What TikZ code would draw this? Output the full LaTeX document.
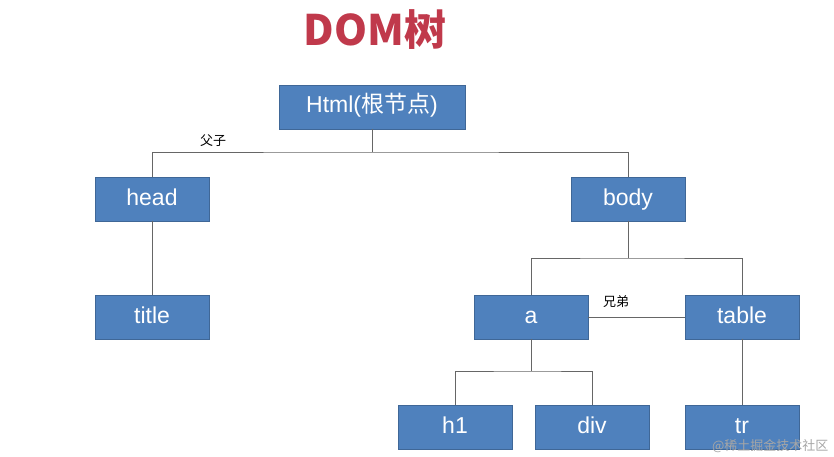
\documentclass[tikz,border=0pt]{standalone}
\usepackage{fontspec}
\setmainfont{Liberation Sans}
\newfontfamily\cjk{Noto Sans CJK SC}
\newfontfamily\cjkb{Noto Sans CJK SC Black}
\definecolor{boxblue}{HTML}{4F81BD}
\definecolor{titlered}{HTML}{C0394B}
\begin{document}
\begin{tikzpicture}[x=1pt,y=-1pt,
  box/.style={draw=boxblue!80!black,fill=boxblue,text=white,minimum width=114pt,minimum height=44pt,inner sep=0pt,text height=17pt,text depth=5pt,font=\fontsize{23}{25}\selectfont},
  conn/.style={draw=black!60,line width=0.8pt},
  lab/.style={font=\cjk\fontsize{13}{14}\selectfont}]
\useasboundingbox (0,0) rectangle (834,457);
\node[font=\cjk\bfseries\fontsize{42}{46}\selectfont,text=titlered] (t) at (375,30) {DOM树};
\node[box,minimum width=186pt] (html) at (372,107) {Html({\cjk 根节点})};
\node[box] (head) at (152,199) {head};
\node[box] (body) at (628,199) {body};
\node[box] (title) at (152,317) {title};
\node[box] (a) at (531,317) {a};
\node[box] (table) at (742,317) {table};
\node[box] (h1) at (455,427) {h1};
\node[box] (div) at (592,427) {div};
\node[box] (tr) at (742,427) {tr};
\coordinate (j1) at (372,152);
\coordinate (j2) at (628,258);
\coordinate (j3) at (531,371);
\draw[conn] (html.south) -- (j1);
\draw[conn] (head.north) |- (j1) -| (body.north);
\draw[conn] (head) -- (title);
\draw[conn] (body.south) -- (j2);
\draw[conn] (a.north) |- (j2) -| (table.north);
\draw[conn] (a) -- (table);
\draw[conn] (a.south) -- (j3);
\draw[conn] (h1.north) |- (j3) -| (div.north);
\draw[conn] (table) -- (tr);
\node[lab] (fz) at (213,141) {父子};
\node[lab] (xd) at (616,302) {兄弟};
\node[font=\cjk\fontsize{13}{14}\selectfont,text=black!35,anchor=east] (wm) at (832,446) {@稀土掘金技术社区};
\end{tikzpicture}
\end{document}
